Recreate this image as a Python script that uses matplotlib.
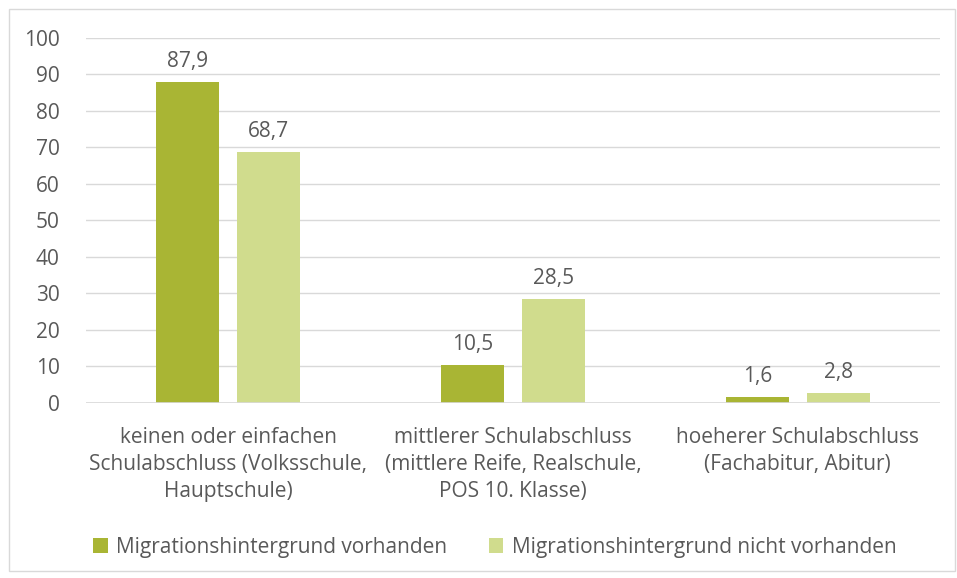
import matplotlib
matplotlib.use("Agg")
import matplotlib.pyplot as plt
import numpy as np
from matplotlib.patches import Rectangle

categories = ["keinen oder einfachen\nSchulabschluss (Volksschule,\nHauptschule)",
              "mittlerer Schulabschluss\n(mittlere Reife, Realschule,\nPOS 10. Klasse)",
              "hoeherer Schulabschluss\n(Fachabitur, Abitur)"]
series_names = ["Migrationshintergrund vorhanden", "Migrationshintergrund nicht vorhanden"]
mit = [87.9, 10.5, 1.6]
ohne = [68.7, 28.5, 2.8]
yticks = [0, 10, 20, 30, 40, 50, 60, 70, 80, 90, 100]

plt.rcParams['font.family'] = ['Open Sans', 'DejaVu Sans']
txt = '#595959'
c1 = '#A9B534'
c2 = '#D0DC8D'
fs = 15

fig = plt.figure(figsize=(9.57, 5.78), dpi=100)
ax = fig.add_axes([0.0899, 0.3028, 0.8924, 0.6315])

x = np.arange(len(categories))
w = 0.221
off = 0.142
b1 = ax.bar(x - off, mit, w, color=c1, label=series_names[0], zorder=3)
b2 = ax.bar(x + off, ohne, w, color=c2, label=series_names[1], zorder=3)
for bars, vals in ((b1, mit), (b2, ohne)):
    for r, v in zip(bars, vals):
        ax.annotate(f"{v:.1f}".replace('.', ','), (r.get_x() + r.get_width() / 2, v),
                    xytext=(0, 7), textcoords='offset points', ha='center', va='bottom',
                    fontsize=fs, color=txt)

ax.set_xlim(-0.5, 2.5)
ax.set_ylim(0, 100)
ax.set_yticks(yticks)
ax.set_yticklabels([str(t) for t in yticks], fontsize=fs, color=txt)
ax.set_xticks(x)
ax.set_xticklabels(categories, fontsize=fs, color=txt, linespacing=1.38)
ax.tick_params(axis='both', length=0)
ax.tick_params(axis='y', pad=19)
ax.tick_params(axis='x', pad=17)
ax.grid(axis='y', color='#D9D9D9', linewidth=1, zorder=0)
for s in ax.spines.values():
    s.set_visible(False)
ax.axhline(0, color='#D9D9D9', linewidth=1.2, zorder=4)

leg = fig.legend(loc='center', bbox_to_anchor=(0.517, 0.053), ncol=2, frameon=False,
                 fontsize=fs, handlelength=0.7, handleheight=0.7, handletextpad=0.4,
                 columnspacing=2.0)
for t in leg.get_texts():
    t.set_color(txt)

fig.patches.append(Rectangle((9 / 957, 1 - 571 / 578), 946 / 957, 562 / 578,
                             transform=fig.transFigure, fill=False,
                             edgecolor='#D9D9D9', linewidth=1))

fig.savefig("out.png", dpi=100)
